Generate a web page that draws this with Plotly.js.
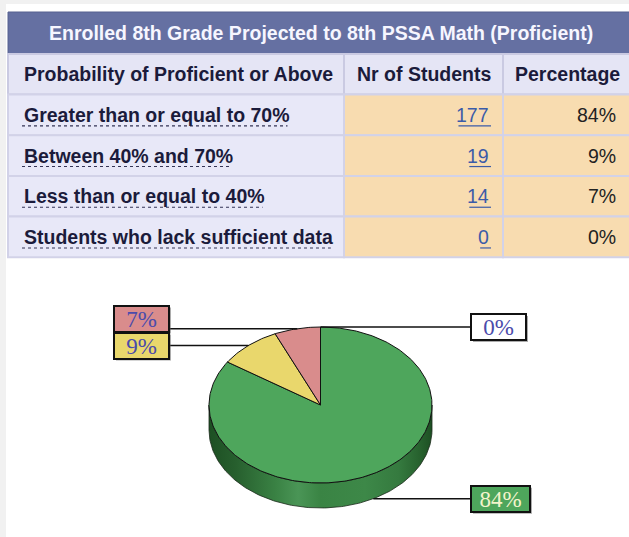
<!DOCTYPE html>
<html><head><meta charset="utf-8">
<script src="https://cdn.plot.ly/plotly-3.0.1.min.js"></script>
<style>html,body{margin:0;padding:0;background:#fff;overflow:hidden}#chart{width:629px;height:537px}</style>
</head><body><div id="chart"></div>
<script>
// ---- data ----
const tableTitle = "Enrolled 8th Grade Projected to 8th PSSA Math (Proficient)";
const columns = ["Probability of Proficient or Above", "Nr of Students", "Percentage"];
const categories = ["Greater than or equal to 70%", "Between 40% and 70%", "Less than or equal to 40%", "Students who lack sufficient data"];
const students = [177, 19, 14, 0];
const percentages = [84, 9, 7, 0];
const sliceColors = ["#4ea65c", "#e9d76c", "#d98c8c", "#ffffff"];
const labelTextColors = ["#f4f4cc", "#4b4bab", "#4b4bab", "#4b4bab"];

// ---- styling / geometry ----
const W = 629, H = 537;
const SANS = '"Liberation Sans", Arial, sans-serif';
const SERIF = '"Liberation Serif", "Times New Roman", serif';
const FS = 19.5;
const colX = [8, 344, 503, 640];
const titleTop = 12, headTop = 54, rowTop = 94.5, rowH = 40.7;

const canvas = document.createElement('canvas');
const ctx = canvas.getContext('2d');
function textW(t, size, font, bold){ ctx.font = (bold ? 'bold ' : '') + size + 'px ' + font; return ctx.measureText(t).width; }
const B = s => '<b>' + s + '</b>';

const shapes = [], annotations = [], traces = [];

// page bands
shapes.push({type:'rect', xref:'x', yref:'y', x0:0, x1:6, y0:0, y1:H, fillcolor:'#f1f1f1', line:{width:0}, layer:'below'});
shapes.push({type:'rect', xref:'x', yref:'y', x0:0, x1:W, y0:0, y1:4, fillcolor:'#f1f1f1', line:{width:0}, layer:'below'});

// title row
shapes.push({type:'rect', xref:'x', yref:'y', x0:colX[0], x1:colX[3], y0:titleTop, y1:headTop, fillcolor:'#6570a2', line:{color:'#56608f', width:1}, layer:'below'});
annotations.push({xref:'x', yref:'y', x:(colX[0]+633)/2, y:(titleTop+headTop)/2, text:B(tableTitle), showarrow:false,
  xanchor:'center', yanchor:'middle', font:{family:SANS, size:FS, color:'#f6f6ff'}});

// header row
for (let c=0;c<3;c++){
  shapes.push({type:'rect', xref:'x', yref:'y', x0:colX[c], x1:colX[c+1], y0:headTop, y1:rowTop, fillcolor:'#e5e5f5', line:{color:'#cacae2', width:2}, layer:'below'});
}
annotations.push({xref:'x', yref:'y', x:22, y:(headTop+rowTop)/2, text:B(columns[0]), showarrow:false, xanchor:'left', yanchor:'middle', font:{family:SANS, size:FS, color:'#1b1b3b'}});
annotations.push({xref:'x', yref:'y', x:(colX[1]+colX[2])/2, y:(headTop+rowTop)/2, text:B(columns[1]), showarrow:false, xanchor:'center', yanchor:'middle', font:{family:SANS, size:FS, color:'#1b1b3b'}});
annotations.push({xref:'x', yref:'y', x:567, y:(headTop+rowTop)/2, text:B(columns[2]), showarrow:false, xanchor:'center', yanchor:'middle', font:{family:SANS, size:FS, color:'#1b1b3b'}});

// data rows
categories.forEach((cat, i) => {
  const y0 = rowTop + i*rowH, y1 = y0 + rowH, ym = (y0+y1)/2;
  for (let c=0;c<3;c++){
    shapes.push({type:'rect', xref:'x', yref:'y', x0:colX[c], x1:colX[c+1], y0:y0, y1:y1,
      fillcolor: c===0 ? '#e8e8f8' : '#f8dcb0', line:{color:'#d2d2e8', width:2}, layer:'below'});
  }
  annotations.push({xref:'x', yref:'y', x:22, y:ym, text:B(cat), showarrow:false, xanchor:'left', yanchor:'middle', font:{family:SANS, size:FS, color:'#1b1b3b'}});
  const lw = textW(cat, FS, SANS, true);
  shapes.push({type:'line', xref:'x', yref:'y', x0:22, x1:22+lw, y0:ym+11, y1:ym+11, line:{color:'#333355', width:1.1, dash:'dot'}});
  const nTxt = String(students[i]);
  annotations.push({xref:'x', yref:'y', x:491, y:ym, text:nTxt, showarrow:false, xanchor:'right', yanchor:'middle', font:{family:SANS, size:FS, color:'#3b5ba8'}});
  const nw = textW(nTxt, FS, SANS, false);
  shapes.push({type:'line', xref:'x', yref:'y', x0:491-nw, x1:491, y0:ym+11, y1:ym+11, line:{color:'#3b5ba8', width:1.2}});
  annotations.push({xref:'x', yref:'y', x:618, y:ym, text:percentages[i]+'%', showarrow:false, xanchor:'right', yanchor:'middle', font:{family:SANS, size:FS, color:'#222222'}});
});

// ---- 3D pie (elliptical) ----
const cx = 320.5, cy = 405, rx = 111.5, ry = 78, depth = 25;
const total = students.reduce((a,b)=>a+b, 0);
function pt(t, dy){ const r = t*Math.PI/180; return [cx + rx*Math.sin(r), cy - ry*Math.cos(r) + (dy||0)]; }
function arc(a0, a1, dy){ const xs=[], ys=[]; const n = Math.max(2, Math.ceil(Math.abs(a1-a0))); for (let i=0;i<=n;i++){ const p = pt(a0+(a1-a0)*i/n, dy); xs.push(p[0]); ys.push(p[1]); } return [xs, ys]; }
function darker(hex, f){ const n=parseInt(hex.slice(1),16); const r=Math.round(((n>>16)&255)*f), g=Math.round(((n>>8)&255)*f), b=Math.round((n&255)*f); return 'rgb('+r+','+g+','+b+')'; }

const angles = []; let cum = 0;
students.forEach(v => { const a0 = cum/total*360; cum += v; angles.push([a0, cum/total*360]); });

// sides (front half: 90..270)
angles.forEach(([a0,a1], i) => {
  const s0 = Math.max(a0, 90), s1 = Math.min(a1, 270);
  if (s1 <= s0) return;
  const top = arc(s0, s1, 0), bot = arc(s1, s0, depth);
  const tr = {type:'scatter', mode:'lines', x: top[0].concat(bot[0], [top[0][0]]), y: top[1].concat(bot[1], [top[1][0]]),
    fill:'toself', fillcolor: darker(sliceColors[i], 0.7), line:{color:'#1a2a1a', width:0.8}, hoverinfo:'skip', showlegend:false};
  if (i === 0) {
    tr.fillgradient = {type:'horizontal', colorscale:[[0,'#1d4f23'],[0.12,'#275f2e'],[0.3,'#3a8244'],[0.4,'#4a9556'],[0.5,'#3a8444'],[0.7,'#3d8848'],[0.85,'#357a3f'],[0.95,'#26602d'],[1,'#1d4f23']]};
  }
  traces.push(tr);
});

// top faces
angles.forEach(([a0,a1], i) => {
  if (a1 <= a0) return;
  const a = arc(a0, a1, 0);
  traces.push({type:'scatter', mode:'lines', x:[cx].concat(a[0], [cx]), y:[cy].concat(a[1], [cy]),
    fill:'toself', fillcolor:sliceColors[i], line:{color:'#111111', width:1}, hoverinfo:'skip', showlegend:false});
});

// labels with leader lines
const boxW = 55, boxH = 26;
const labels = angles.map(([a0,a1], i) => {
  const mid = (a0+a1)/2; const tm = mid % 360;
  const front = tm > 90 && tm < 270;
  const p = pt(mid, front ? depth : 0);
  const right = tm < 180;
  return {i, px:p[0], py:p[1], right, cyBox:p[1]};
});
// resolve overlap per side
[true,false].forEach(side => {
  const L = labels.filter(l => l.right === side).sort((a,b) => b.py - a.py);
  for (let k=1;k<L.length;k++){ if (L[k-1].cyBox - L[k].cyBox < boxH+1) L[k].cyBox = L[k-1].cyBox - (boxH+1); }
});
labels.forEach(l => {
  const txt = percentages[l.i] + '%';
  const w = l.i === 0 ? 59 : boxW;
  const bx0 = l.right ? 471 : 169 - w;
  const bx1 = bx0 + w;
  traces.push({type:'scatter', mode:'lines', x: l.right ? [l.px, bx0] : [bx1, l.px], y:[l.py, l.py],
    line:{color:'#111111', width:1.4}, hoverinfo:'skip', showlegend:false});
  shapes.push({type:'rect', xref:'x', yref:'y', x0:bx0+2, x1:bx1+2, y0:l.cyBox-boxH/2+2, y1:l.cyBox+boxH/2+2, fillcolor:'rgba(90,90,90,0.5)', line:{width:0}, layer:'above'});
  annotations.push({xref:'x', yref:'y', x:(bx0+bx1)/2, y:l.cyBox, text:txt, showarrow:false, xanchor:'center', yanchor:'middle',
    width:w-2, height:boxH-2, borderpad:0, borderwidth:2, bordercolor:'#111111', bgcolor:sliceColors[l.i],
    font:{family:SERIF, size:23, color:labelTextColors[l.i]}});
});

const layout = {
  width:W, height:H, margin:{l:0,r:0,t:0,b:0}, paper_bgcolor:'#ffffff', plot_bgcolor:'#ffffff',
  xaxis:{range:[0,W], visible:false, fixedrange:true},
  yaxis:{range:[H,0], visible:false, fixedrange:true},
  shapes, annotations, showlegend:false
};
Plotly.newPlot('chart', traces, layout, {staticPlot:true, displayModeBar:false});
</script></body></html>
